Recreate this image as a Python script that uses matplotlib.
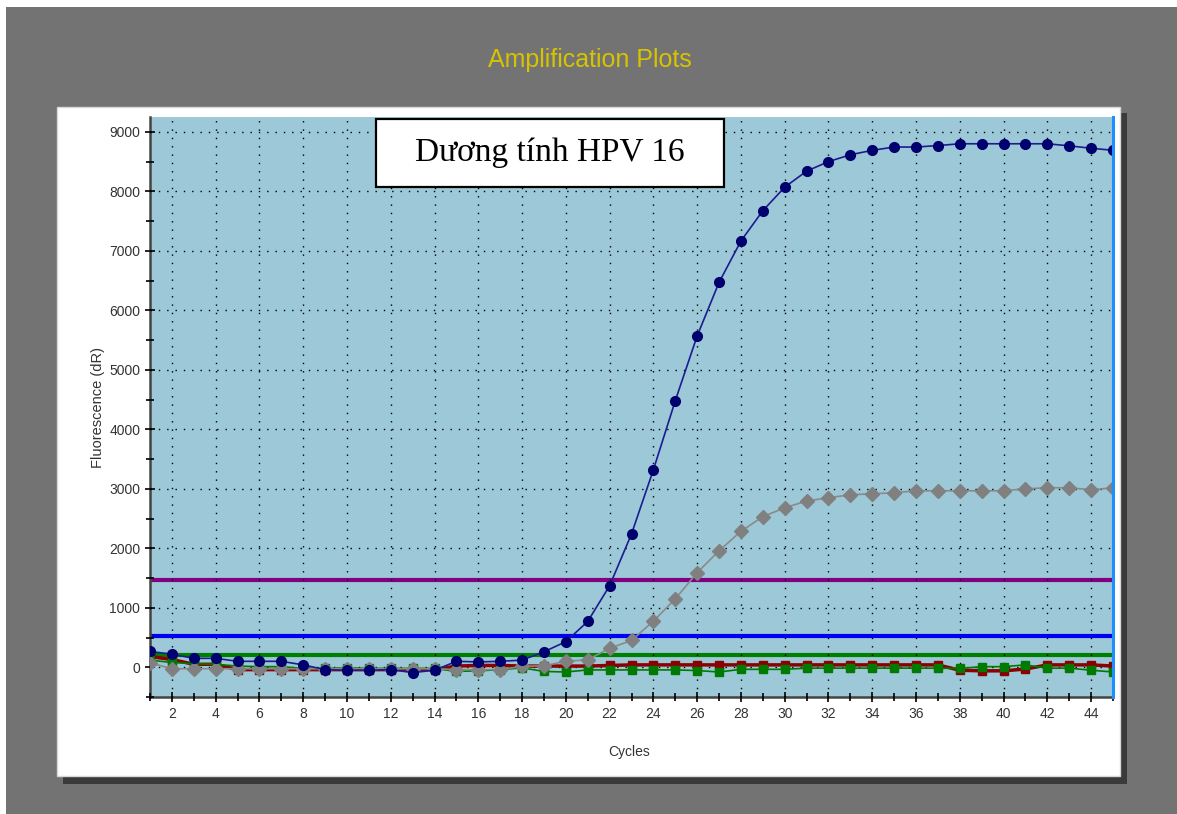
import matplotlib.pyplot as plt
from matplotlib.patches import Rectangle
from matplotlib.ticker import MultipleLocator

# qPCR amplification data (cycles 1..45)
cycles = list(range(1, 46))

hpv16 = [266, 220, 150, 150, 100, 100, 100, 40, -40, -50,
         -50, -40, -90, -50, 100, 90, 100, 120, 260, 430,
         770, 1370, 2240, 3320, 4480, 5570, 6470, 7165, 7675, 8070,
         8340, 8500, 8615, 8690, 8745, 8745, 8770, 8800, 8800, 8800,
         8800, 8800, 8765, 8725, 8690]

internal_ctrl = [75, -25, -25, -25, -25, -25, -25, -25, -25, -25,
                 -25, -25, -25, -25, -40, -40, -40, 15, 25, 100,
                 126, 320, 450, 775, 1150, 1590, 1958, 2285, 2532, 2680,
                 2795, 2850, 2899, 2916, 2933, 2966, 2966, 2966, 2966, 2966,
                 3000, 3017, 3017, 2983, 3017]

green_series = [120, 80, 60, 50, 20, 10, 10, -20, -20, -10,
                -20, -20, -20, -20, -70, -60, -40, -10, -70, -80,
                -45, -45, -45, -45, -45, -55, -80, -35, -35, -35,
                -15, -15, -15, -15, -15, -15, -15, -20, 10, 10,
                40, -15, -15, -50, -80]

red_series = [180, 130, 50, 50, -40, -40, -40, -40, -40, -40,
              -40, -40, -40, -40, 20, 30, 30, 20, 20, 20,
              20, 30, 40, 40, 40, 40, 40, 40, 40, 40,
              40, 40, 40, 40, 40, 40, 40, -50, -60, -60,
              -30, 40, 40, 40, 20]

thresholds = [1460, 530, 205]
threshold_colors = ['#800080', '#0000f0', '#008000']

W, H = 1177, 814
narrow = ['Liberation Sans Narrow', 'Liberation Sans', 'DejaVu Sans']


def fig_rect(x0, y0, x1, y1, **kw):
    # pixel box (top-left origin) -> figure rectangle
    return Rectangle((x0 / W, 1 - y1 / H), (x1 - x0) / W, (y1 - y0) / H,
                     transform=fig.transFigure, **kw)


fig = plt.figure(figsize=(W / 100, H / 100), dpi=100, facecolor='#737373')

# white strips at top/left edge, shadow and white panel
fig.add_artist(fig_rect(0, 0, W, 7, facecolor='white', edgecolor='none', zorder=0))
fig.add_artist(fig_rect(0, 0, 6, H, facecolor='white', edgecolor='none', zorder=0))
fig.add_artist(fig_rect(63, 113, 1127, 784, facecolor='#3a3a3a', edgecolor='none', zorder=0))
fig.add_artist(fig_rect(57, 107, 1120, 776, facecolor='white', edgecolor='#d8d8d8',
                        lw=1, zorder=0))

fig.text(590 / W, 1 - 60 / H, 'Amplification Plots', color='#d6c400', fontsize=18,
         family=narrow, ha='center', va='center')

ax = fig.add_axes([150 / W, 1 - 697 / H, (1113 - 150) / W, (697 - 117) / H])
ax.set_facecolor('#9cc8d7')

for t, c in zip(thresholds, threshold_colors):
    ax.axhline(t, color=c, lw=3, zorder=2)

ax.plot(cycles, red_series, color='#8b0000', lw=2.5, marker='s', ms=6, zorder=3)
ax.plot(cycles, green_series, color='#007a00', lw=1.2, marker='s', ms=6, zorder=3)
ax.plot(cycles, internal_ctrl, color='#8a8a8a', lw=1.2, marker='D', ms=7,
        mfc='#808080', mec='#808080', zorder=4)
ax.plot(cycles, hpv16, color='#1c1c90', lw=1.2, marker='o', ms=7,
        mfc='#00006e', mec='#00006e', zorder=5)

ax.axvline(45, color='#1e8fff', lw=2.2, clip_on=False, zorder=6)

ax.set_xlim(1, 45)
ax.set_ylim(-500, 9250)
ax.set_xticks(range(2, 45, 2))
ax.xaxis.set_minor_locator(MultipleLocator(1))
ax.set_yticks(range(0, 9001, 1000))
ax.yaxis.set_minor_locator(MultipleLocator(500))
ax.tick_params(which='both', direction='inout', color='black', width=1.2,
               labelsize=10, labelcolor='#333333')
ax.tick_params(which='major', length=7)
ax.tick_params(which='minor', length=6)
for lab in ax.get_xticklabels() + ax.get_yticklabels():
    lab.set_family(narrow)

ax.grid(True, which='major', color='black', linestyle=(0, (1, 5)), lw=1.0)
ax.set_axisbelow(False)

for s in ['top', 'right']:
    ax.spines[s].set_visible(False)
for s in ['left', 'bottom']:
    ax.spines[s].set_color('#444444')
    ax.spines[s].set_linewidth(1.8)

ax.set_xlabel('Cycles', fontsize=10, family=narrow, color='#333333')
ax.xaxis.set_label_coords(0.498, -0.083)
ax.set_ylabel('Fluorescence (dR)', fontsize=10.5, family=narrow, color='#333333')
ax.yaxis.set_label_coords(-0.047, 0.5)

# overlay label box
ax.add_patch(Rectangle((0.2347, 0.879), 0.3613, 0.1176, transform=ax.transAxes,
                       facecolor='white', edgecolor='black', lw=1.6, zorder=7))
ax.text(0.415, 0.938, 'Dương tính HPV 16', transform=ax.transAxes, fontsize=24,
        family=['Liberation Serif', 'DejaVu Serif'], ha='center', va='center', zorder=8)

fig.savefig('out.png', dpi=100)
